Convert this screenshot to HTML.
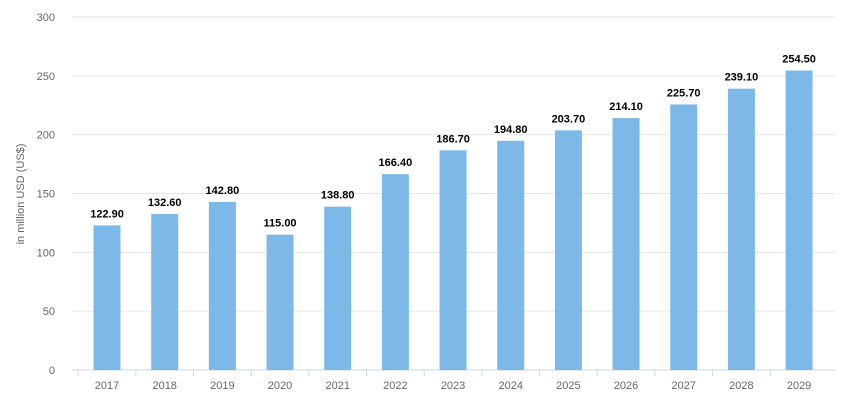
<!DOCTYPE html>
<html><head><meta charset="utf-8"><style>
body{margin:0;background:#fff;font-family:"Liberation Sans",sans-serif;}
svg{display:block}
</style></head><body>
<svg id="chart" width="842" height="408" viewBox="0 0 842 408"></svg>
<script>
const categories=["2017","2018","2019","2020","2021","2022","2023","2024","2025","2026","2027","2028","2029"];
const values=[122.9,132.6,142.8,115.0,138.8,166.4,186.7,194.8,203.7,214.1,225.7,239.1,254.5];
const yTicks=[0,50,100,150,200,250,300];
const svg=document.getElementById('chart');
const NS='http://www.w3.org/2000/svg';
const x0=78.2,step=57.67,barW=27,yBase=370,yTop=17,yMax=300;
const y=v=>yBase-(v/yMax)*(yBase-yTop);
const xc=i=>x0+step*(i+0.5);
function mk(tag,attrs){const e=document.createElementNS(NS,tag);for(const k in attrs)e.setAttribute(k,attrs[k]);svg.appendChild(e);return e;}
yTicks.forEach(t=>{
 const g=mk('line',{x1:72,x2:835,y1:y(t),y2:y(t),stroke:t===0?'#ccd6eb':'#e6e6e6','stroke-width':1});
 
 
 const l=mk('text',{x:55,y:y(t)+4,'text-anchor':'end','font-size':11,fill:'#666'});
 l.textContent=t;
 
 
});
const yt=mk('text',{x:24,y:194,'text-anchor':'middle','font-size':11,fill:'#666',transform:'rotate(-90 24 194)'});
yt.textContent='in million USD (US$)';


categories.forEach((c,i)=>{
 const b=mk('rect',{x:xc(i)-barW/2,y:y(values[i]),width:barW,height:yBase-y(values[i]),fill:'#7cb9e8'});
 
 
 const v=mk('text',{x:xc(i),y:y(values[i])-8,'text-anchor':'middle','font-size':11,'font-weight':'bold',fill:'#000'});
 v.textContent=values[i].toFixed(2);
 
 
 const tk=mk('line',{x1:xc(i)-step/2,x2:xc(i)-step/2,y1:370,y2:376,stroke:'#ccd6eb'});
 
 
 const l=mk('text',{x:xc(i),y:389,'text-anchor':'middle','font-size':11,fill:'#666'});
 l.textContent=c;
 
 
});
</script>
</body></html>
